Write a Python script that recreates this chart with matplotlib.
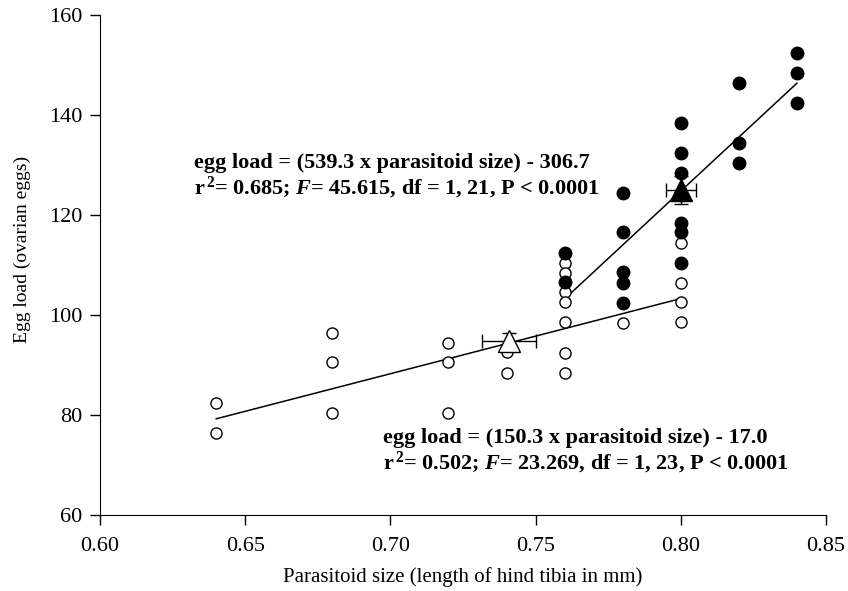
import numpy as np
import matplotlib.pyplot as plt

plt.rcParams['font.family'] = ['Liberation Serif', 'DejaVu Serif']
plt.rcParams['mathtext.fontset'] = 'custom'
plt.rcParams['mathtext.rm'] = 'Liberation Serif:bold'
plt.rcParams['mathtext.bf'] = 'Liberation Serif:bold'
plt.rcParams['mathtext.it'] = 'Liberation Serif:bold:italic'

# 数据
open_x = [0.64, 0.64, 0.68, 0.68, 0.68, 0.72, 0.72, 0.72, 0.74, 0.74,
          0.76, 0.76, 0.76, 0.76, 0.76, 0.76, 0.76, 0.78,
          0.80, 0.80, 0.80, 0.80]
open_y = [82.4, 76.4, 96.4, 90.6, 80.4, 94.4, 90.6, 80.4, 92.6, 88.4,
          110.4, 108.4, 104.6, 102.6, 98.6, 92.4, 88.4, 98.4,
          114.4, 106.4, 102.6, 98.6]

filled_x = [0.76, 0.76, 0.78, 0.78, 0.78, 0.78, 0.78,
            0.80, 0.80, 0.80, 0.80, 0.80, 0.80, 0.80,
            0.82, 0.82, 0.82, 0.84, 0.84, 0.84]
filled_y = [112.4, 106.6, 124.4, 116.6, 108.6, 106.4, 102.4,
            138.4, 132.4, 128.4, 124.0, 118.4, 116.6, 110.4,
            146.4, 134.4, 130.4, 152.4, 148.4, 142.4]

# 均值 ± 误差
open_mean = (0.741, 94.8)
open_err = (0.0093, 1.5)
filled_mean = (0.8001, 124.9)
filled_err = (0.0052, 2.8)

# 回归线
open_fit = (150.3, -17.0)
open_range = [0.64, 0.80]
filled_fit = (539.3, -306.7)
filled_range = [0.76, 0.84]

fig = plt.figure(figsize=(8.48, 5.91), dpi=100)
ax = fig.add_axes([0.118, 0.129, 0.856, 0.846])

xs = np.array(open_range)
ax.plot(xs, open_fit[0] * xs + open_fit[1], color='black', lw=1.1, zorder=2)
xs = np.array(filled_range)
ax.plot(xs, filled_fit[0] * xs + filled_fit[1], color='black', lw=1.1, zorder=2)

ax.plot(open_x, open_y, 'o', ms=8, mfc='white', mec='black', mew=1.0, zorder=3)
ax.plot(filled_x, filled_y, 'o', ms=9, mfc='black', mec='black', zorder=3)

ax.errorbar(open_mean[0], open_mean[1], xerr=open_err[0], yerr=open_err[1],
            fmt='^', ms=16, mfc='white', mec='black', mew=1.0, ecolor='black',
            elinewidth=1.0, capsize=5, zorder=4)
ax.errorbar(filled_mean[0], filled_mean[1], xerr=filled_err[0], yerr=filled_err[1],
            fmt='^', ms=16, mfc='black', mec='black', ecolor='black',
            elinewidth=1.0, capsize=5, zorder=4)

ax.set_xlim(0.60, 0.85)
ax.set_ylim(60, 160)
ax.set_xticks(np.arange(0.60, 0.851, 0.05))
ax.set_xticklabels(['0.60', '0.65', '0.70', '0.75', '0.80', '0.85'])
ax.set_yticks(np.arange(60, 161, 20))
ax.tick_params(direction='out', length=7, width=1, labelsize=16)
ax.tick_params(axis='x', pad=9)
ax.tick_params(axis='y', pad=6)
ax.spines['top'].set_visible(False)
ax.spines['right'].set_visible(False)
ax.set_xlabel('Parasitoid size (length of hind tibia in mm)', fontsize=15, labelpad=8)
ax.set_ylabel('Egg load (ovarian eggs)', fontsize=14)
ax.yaxis.set_label_coords(-0.095, 0.53)

# 方程文字
ax.text(0.6322, 130.4, 'egg load = (539.3 x parasitoid size) - 306.7',
        fontsize=16, fontweight='bold', va='center')
ax.text(0.6322, 125.4, r'r$^{\,2}$= 0.685; $F$= 45.615, df = 1, 21, P < 0.0001',
        fontsize=16, fontweight='bold', va='center')
ax.text(0.6975, 75.4, 'egg load = (150.3 x parasitoid size) - 17.0',
        fontsize=16, fontweight='bold', va='center')
ax.text(0.6975, 70.4, r'r$^{\,2}$= 0.502; $F$= 23.269, df = 1, 23, P < 0.0001',
        fontsize=16, fontweight='bold', va='center')

plt.savefig('out.png', dpi=100)
